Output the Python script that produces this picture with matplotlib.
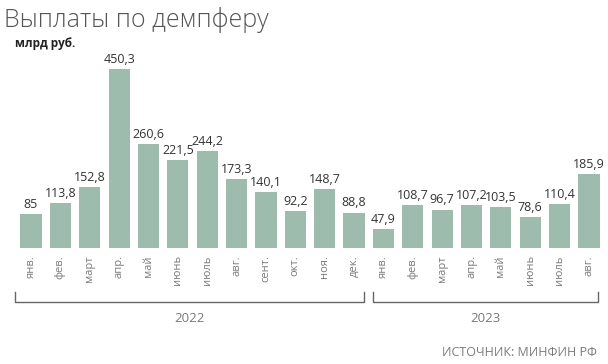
import numpy as np
import matplotlib
matplotlib.use('Agg')
from matplotlib import pyplot as plt

# data
months_2022 = ['янв.', 'фев.', 'март', 'апр.', 'май', 'июнь', 'июль', 'авг.', 'сент.', 'окт.', 'ноя.', 'дек.']
months_2023 = ['янв.', 'фев.', 'март', 'апр.', 'май', 'июнь', 'июль', 'авг.']
values_2022 = [85, 113.8, 152.8, 450.3, 260.6, 221.5, 244.2, 173.3, 140.1, 92.2, 148.7, 88.8]
values_2023 = [47.9, 108.7, 96.7, 107.2, 103.5, 78.6, 110.4, 185.9]

labels = months_2022 + months_2023
values = values_2022 + values_2023
x = np.arange(len(values))

bar_color = '#9dbcad'
text_color = '#333333'
gray = '#7a7a7a'

plt.rcParams['font.family'] = ['Open Sans', 'DejaVu Sans']

fig = plt.figure(figsize=(6.08, 3.64), dpi=100)
# axes spans the whole width; baseline at ~248 px from top
ax = fig.add_axes([0, 1 - 248 / 364, 1, 248 / 364])
step = 29.37
ax.set_xlim(-31 / step, (608 - 31) / step)
ax.set_ylim(0, 248 / 0.398)
ax.axis('off')

ax.bar(x, values, width=0.72, color=bar_color)

def fmt(v):
    s = ('%.1f' % v).replace('.', ',')
    return s[:-2] if s.endswith(',0') else s

for xi, v in zip(x, values):
    ax.text(xi, v + 8, fmt(v), ha='center', va='bottom', fontsize=9, color=text_color)

for xi, lab in zip(x, labels):
    ax.text(xi, -18, lab, ha='center', va='top', rotation=90, fontsize=8, color=gray)

# year brackets
def bracket(x0, x1, y, label):
    fig.add_artist(plt.Line2D([x0 / 608, x0 / 608, x1 / 608, x1 / 608],
                              [1 - 292 / 364, 1 - y / 364, 1 - y / 364, 1 - 292 / 364],
                              color='#666666', lw=1))
    fig.text((x0 + x1) / 2 / 608, 1 - 318 / 364, label, ha='center', va='center',
             fontsize=9.5, color=gray)

bracket(15, 364, 302, '2022')
bracket(373, 598, 302, '2023')

fig.text(4 / 608, 1 - 20 / 364, 'Выплаты по демпферу', ha='left', va='center',
         fontsize=18, color='#555555', fontweight='light')
fig.text(15 / 608, 1 - 44 / 364, 'млрд руб.', ha='left', va='center',
         fontsize=8.5, color='#222222', fontweight='bold')
fig.text(597 / 608, 1 - 352 / 364, 'ИСТОЧНИК: МИНФИН РФ', ha='right', va='center',
         fontsize=9, color=gray)

fig.savefig('out.png', dpi=100)
